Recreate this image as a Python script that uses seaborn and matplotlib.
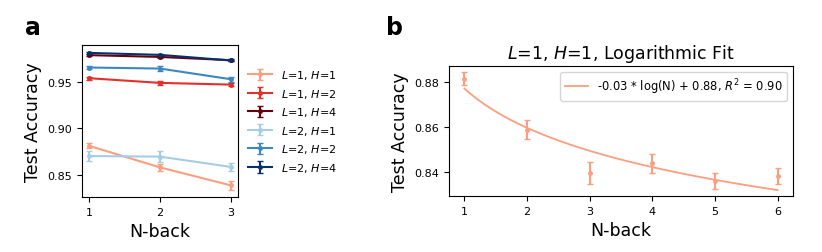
# N-back accuracy: panel a (all configs), panel b (L=1, H=1 with log fit)

import numpy as np
import pandas as pd
import matplotlib
matplotlib.use("Agg")
import matplotlib.pyplot as plt
import seaborn as sns

plt.rcParams["font.family"] = ["DejaVu Sans"]

# data
nback_a = [1, 2, 3]
labels_a = ["$L$=1, $H$=1", "$L$=1, $H$=2", "$L$=1, $H$=4",
            "$L$=2, $H$=1", "$L$=2, $H$=2", "$L$=2, $H$=4"]
acc_l1h1 = [0.8815, 0.8585, 0.8393]
acc_l1h2 = [0.9536, 0.9486, 0.9468]
acc_l1h4 = [0.9782, 0.9763, 0.9728]
acc_l2h1 = [0.8706, 0.8700, 0.8590]
acc_l2h2 = [0.9650, 0.9639, 0.9525]
acc_l2h4 = [0.9806, 0.9785, 0.9725]
err_l1h1 = [0.0028, 0.0040, 0.0050]
err_l1h2 = [0.0015, 0.0018, 0.0018]
err_l1h4 = [0.0010, 0.0010, 0.0008]
err_l2h1 = [0.0050, 0.0060, 0.0045]
err_l2h2 = [0.0015, 0.0025, 0.0027]
err_l2h4 = [0.0010, 0.0010, 0.0008]
colors_a = ["#fc9e80", "#e3302a", "#67000d", "#a6cde4", "#3a88c2", "#08306b"]

nback_b = [1, 2, 3, 4, 5, 6]
acc_b = [0.8816, 0.8590, 0.8397, 0.8440, 0.8361, 0.8385]
err_b = [0.0030, 0.0043, 0.0049, 0.0043, 0.0037, 0.0036]
fit_slope = -0.0252
fit_intercept = 0.8772
fit_label = "-0.03 * log(N) + 0.88, $R^2$ = 0.90"

accs = [acc_l1h1, acc_l1h2, acc_l1h4, acc_l2h1, acc_l2h2, acc_l2h4]
errs = [err_l1h1, err_l1h2, err_l1h4, err_l2h1, err_l2h2, err_l2h4]

fig = plt.figure(figsize=(8.22, 2.53), dpi=100)
ax1 = fig.add_axes([0.0998, 0.2174, 0.1897, 0.6006])
ax2 = fig.add_axes([0.546, 0.2213, 0.419, 0.5137])

# panel a
for acc, err, lab, col in zip(accs, errs, labels_a, colors_a):
    ax1.errorbar(nback_a, acc, yerr=err, color=col, marker=".", markersize=5,
                 capsize=2, linewidth=1.5, label=lab)
ax1.set_xticks(nback_a)
ax1.set_yticks([0.85, 0.90, 0.95])
ax1.tick_params(labelsize=8)
ax1.set_xlabel("N-back", fontsize=12.5)
ax1.set_ylabel("Test Accuracy", fontsize=12.5)
ax1.legend(loc="center left", bbox_to_anchor=(1.0, 0.5), frameon=False,
           fontsize=8, handlelength=2.2)

# panel b
ax2.errorbar(nback_b, acc_b, yerr=err_b, color=colors_a[0], marker=".",
             markersize=5, capsize=2, linestyle="none")
n_fit = np.linspace(1, 6, 100)
fit_df = pd.DataFrame({"N": n_fit, "acc": fit_slope * np.log(n_fit) + fit_intercept})
sns.lineplot(data=fit_df, x="N", y="acc", color=colors_a[0], linewidth=1.3,
             label=fit_label, ax=ax2)
ax2.set_xticks(nback_b)
ax2.tick_params(labelsize=8)
ax2.set_xlabel("N-back", fontsize=12.5)
ax2.set_ylabel("Test Accuracy", fontsize=12.5)
ax2.set_title("$L$=1, $H$=1, Logarithmic Fit", fontsize=12.5)
ax2.legend(loc="upper right", fontsize=8.3)

fig.text(0.03, 0.86, "a", fontsize=17, fontweight="bold")
fig.text(0.47, 0.86, "b", fontsize=17, fontweight="bold")

fig.savefig("out.png", dpi=100)
